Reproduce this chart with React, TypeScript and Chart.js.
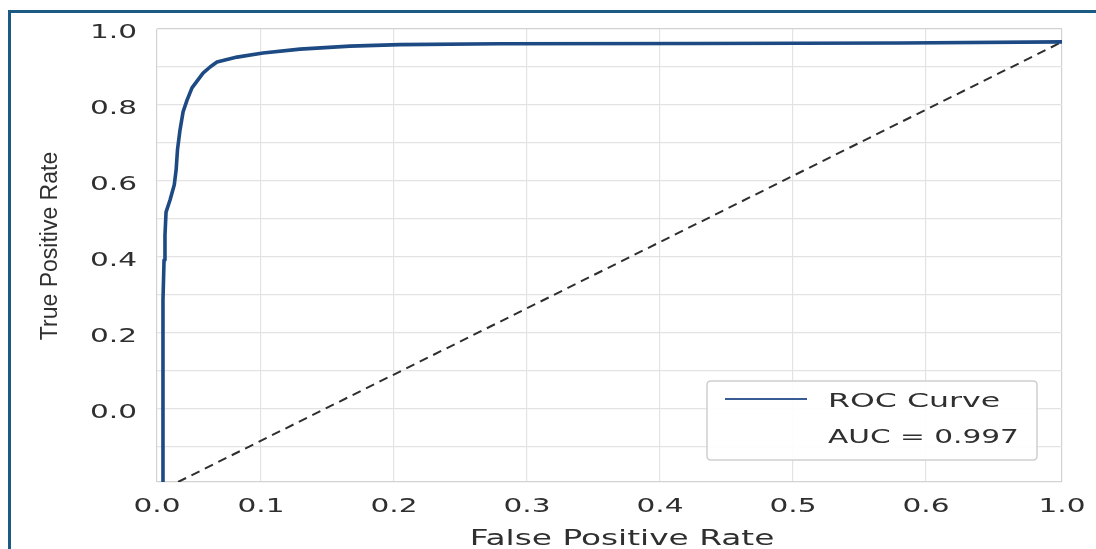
import React, { useEffect, useRef } from "react";
import { Chart, registerables } from "chart.js";

Chart.register(...registerables);

// ---- Data ----
const X_MIN = 0.0218;
const X_MAX = 0.7023;
const X_TICK_VALUES = [0.0218, 0.1, 0.2, 0.3, 0.4, 0.5, 0.6, 0.7023];
const X_TICK_LABELS = ["0.0", "0.1", "0.2", "0.3", "0.4", "0.5", "0.6", "1.0"];

const Y_MIN = -0.192;
const Y_MAX = 1.0;
const Y_GRID_VALUES = [-0.192, -0.1, 0, 0.1, 0.2, 0.3, 0.4, 0.5, 0.6, 0.7, 0.8, 0.9, 1.0];
const Y_TICK_VALUES = [0, 0.2, 0.4, 0.6, 0.8, 1.0];
const Y_TICK_LABELS = ["0.0", "0.2", "0.4", "0.6", "0.8", "1.0"];

const FPR = [
  0.0263, 0.0263, 0.0271, 0.0278, 0.0286, 0.0316, 0.0348, 0.0362, 0.0372, 0.0391,
  0.0414, 0.0444, 0.0481, 0.0526, 0.0564, 0.0617, 0.0669, 0.082, 0.1015, 0.1293,
  0.1669, 0.2045, 0.2797, 0.4301, 0.5805, 0.7023,
];
const TPR = [
  -0.192, 0.287, 0.392, 0.458, 0.518, 0.55, 0.59, 0.63, 0.682, 0.734,
  0.782, 0.813, 0.845, 0.866, 0.884, 0.9, 0.913, 0.926, 0.937, 0.947,
  0.955, 0.959, 0.961, 0.962, 0.963, 0.966,
];

const DIAG_X = [0.0376, 0.7023];
const DIAG_Y = [-0.192, 0.966];

const SERIES_LABEL = "ROC Curve";
const AUC_TEXT = "AUC = 0.997";
const X_TITLE = "False Positive Rate";
const Y_TITLE = "True Positive Rate";

// ---- Style ----
const CURVE_COLOR = "#1e4a84";
const LEGEND_LINE_COLOR = "#3a5c94";
const TEXT_COLOR = "#2f2f2f";
const WIDE_FONT = '"DejaVu Sans", Verdana, sans-serif';
const STRETCH = 1.48;

const textPlugin = {
  id: "stretchedText",
  afterDraw(chart: any) {
    const ctx: CanvasRenderingContext2D = chart.ctx;
    const xs = chart.scales.x;
    const ys = chart.scales.y;

    const txt = (
      s: string,
      x: number,
      y: number,
      size: number,
      align: "left" | "center" | "right",
      color: string,
      sx: number = STRETCH
    ) => {
      ctx.save();
      ctx.font = `${size}px ${WIDE_FONT}`;
      ctx.fillStyle = color;
      ctx.textBaseline = "alphabetic";
      ctx.textAlign = "left";
      const w = ctx.measureText(s).width * sx;
      const left = align === "center" ? x - w / 2 : align === "right" ? x - w : x;
      ctx.translate(left, y);
      ctx.scale(sx, 1);
      ctx.fillText(s, 0, 0);
      ctx.restore();
    };

    X_TICK_VALUES.forEach((v, i) =>
      txt(X_TICK_LABELS[i], xs.getPixelForValue(v), 512, 20, "center", TEXT_COLOR)
    );
    Y_TICK_VALUES.forEach((v, i) =>
      txt(Y_TICK_LABELS[i], 137, ys.getPixelForValue(v) + 9, 20, "right", TEXT_COLOR)
    );

    txt(X_TITLE, 622, 545, 22, "center", TEXT_COLOR, 1.49);

    ctx.save();
    ctx.translate(57, 246);
    ctx.rotate(-Math.PI / 2);
    ctx.font = '23px "Liberation Sans", Arial, sans-serif';
    ctx.textAlign = "center";
    ctx.textBaseline = "alphabetic";
    ctx.fillStyle = TEXT_COLOR;
    ctx.fillText(Y_TITLE, 0, 0);
    ctx.restore();

    // legend box
    const bx = 707, by = 381, bw = 330, bh = 79, r = 4;
    ctx.save();
    ctx.beginPath();
    ctx.moveTo(bx + r, by);
    ctx.lineTo(bx + bw - r, by);
    ctx.quadraticCurveTo(bx + bw, by, bx + bw, by + r);
    ctx.lineTo(bx + bw, by + bh - r);
    ctx.quadraticCurveTo(bx + bw, by + bh, bx + bw - r, by + bh);
    ctx.lineTo(bx + r, by + bh);
    ctx.quadraticCurveTo(bx, by + bh, bx, by + bh - r);
    ctx.lineTo(bx, by + r);
    ctx.quadraticCurveTo(bx, by, bx + r, by);
    ctx.closePath();
    ctx.fillStyle = "rgba(255,255,255,0.92)";
    ctx.fill();
    ctx.strokeStyle = "#cfcfcf";
    ctx.lineWidth = 1.5;
    ctx.stroke();
    ctx.beginPath();
    ctx.moveTo(725, 399);
    ctx.lineTo(807, 399);
    ctx.strokeStyle = LEGEND_LINE_COLOR;
    ctx.lineWidth = 2;
    ctx.stroke();
    ctx.restore();
    txt(chart.data.datasets[0].label, 828, 407, 20, "left", TEXT_COLOR, 1.58);
    txt(AUC_TEXT, 828, 443, 20, "left", TEXT_COLOR);
  },
};

export default function App() {
  const ref = useRef<HTMLCanvasElement | null>(null);

  useEffect(() => {
    if (!ref.current) return;
    const gridColor = (c: any) => {
      const v = c.tick ? c.tick.value : 0;
      return v === X_MIN || v === X_MAX || v === Y_MIN || v === Y_MAX ? "#d2d2d2" : "#e3e3e3";
    };
    const chart = new Chart(ref.current, {
      type: "scatter",
      data: {
        datasets: [
          {
            label: SERIES_LABEL,
            data: FPR.map((x, i) => ({ x, y: TPR[i] })),
            showLine: true,
            borderColor: CURVE_COLOR,
            backgroundColor: CURVE_COLOR,
            borderWidth: 3.6,
            pointRadius: 0,
            tension: 0,
            borderJoinStyle: "round",
            borderCapStyle: "round",
          },
          {
            label: "chance",
            data: DIAG_X.map((x, i) => ({ x, y: DIAG_Y[i] })),
            showLine: true,
            borderColor: "#2e2e2e",
            borderWidth: 2,
            borderDash: [9, 6],
            pointRadius: 0,
          },
        ],
      },
      options: {
        animation: false,
        responsive: false,
        devicePixelRatio: 1,
        layout: { padding: { top: 29, right: 34, left: 0, bottom: 0 } },
        plugins: {
          legend: { display: false },
          tooltip: { enabled: false },
          title: { display: false },
        },
        scales: {
          x: {
            type: "linear",
            min: X_MIN,
            max: X_MAX,
            afterBuildTicks: (s: any) => {
              s.ticks = X_TICK_VALUES.map((v) => ({ value: v }));
            },
            afterFit: (s: any) => {
              s.height = 67;
            },
            ticks: { display: false },
            grid: { color: gridColor, lineWidth: 1.2, drawTicks: false },
            border: { display: false },
          },
          y: {
            type: "linear",
            min: Y_MIN,
            max: Y_MAX,
            afterBuildTicks: (s: any) => {
              s.ticks = Y_GRID_VALUES.map((v) => ({ value: v }));
            },
            afterFit: (s: any) => {
              s.width = 157;
            },
            ticks: { display: false },
            grid: { color: gridColor, lineWidth: 1.2, drawTicks: false },
            border: { display: false },
          },
        },
      },
      plugins: [textPlugin],
    } as any);
    return () => chart.destroy();
  }, []);

  return (
    <>
      <div
        style={{
          position: "fixed",
          left: 8,
          top: 10,
          width: 1088,
          height: 539,
          borderTop: "3px solid #1b5a83",
          borderLeft: "3px solid #1b5a83",
          boxSizing: "border-box",
        }}
      />
      <canvas
        ref={ref}
        width={1096}
        height={549}
        style={{ position: "fixed", left: 0, top: 0, width: 1096, height: 549 }}
      />
    </>
  );
}
